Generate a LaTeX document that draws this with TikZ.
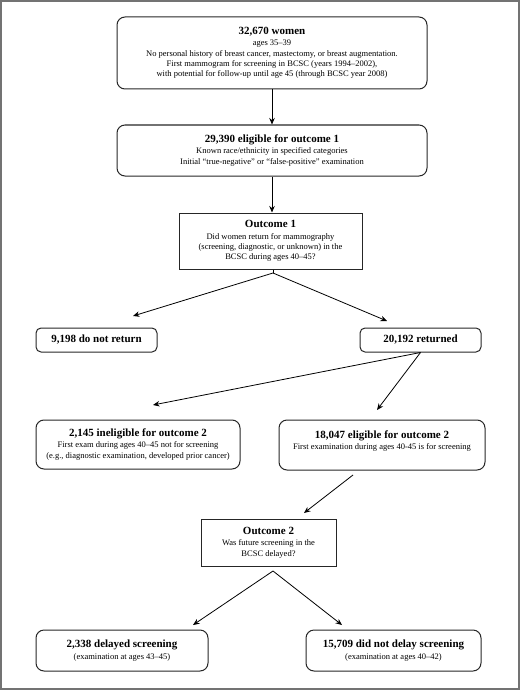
\documentclass[tikz,border=0pt]{standalone}
\usepackage{fontspec}
\setmainfont{Liberation Serif}
\usetikzlibrary{arrows.meta}
\newcommand{\ttl}[1]{{\fontsize{11}{13}\selectfont\bfseries #1}}
\begin{document}
\begin{tikzpicture}[x=1pt,y=-1pt,
  rbox/.style={draw=black!85, line width=1pt, rounded corners=8pt, align=center,
    inner sep=0pt, font=\fontsize{8.5}{10.3}\selectfont},
  sbox/.style={draw=black!85, line width=1pt, align=center, inner sep=0pt,
    font=\fontsize{8.5}{10.3}\selectfont},
  arr/.style={draw=black, line width=0.8pt, -{Stealth[length=6.5pt,width=5.5pt]}},
  ln/.style={draw=black, line width=0.8pt}
]
\useasboundingbox (0,0) rectangle (520,690);
\draw[draw=black!55, line width=2.2pt] (1.1,1.1) rectangle (518.9,688.9);

\node[rbox, minimum width=310pt, minimum height=72pt] (b1) at (272,53)
  {\ttl{32,670 women}\\[1pt] ages 35--39\\ No personal history of breast cancer, mastectomy, or breast augmentation.\\
   First mammogram for screening in BCSC (years 1994--2002),\\ with potential for follow-up until age 45 (through BCSC year 2008)};
\node[rbox, minimum width=310pt, minimum height=51pt] (b2) at (272,150.5)
  {\ttl{29,390 eligible for outcome 1}\\[1pt] Known race/ethnicity in specified categories\\
   Initial “true-negative” or “false-positive” examination};
\node[sbox, minimum width=183pt, minimum height=56pt] (o1) at (270.5,241)
  {\ttl{Outcome 1}\\[1pt] Did women return for mammography\\ (screening, diagnostic, or unknown) in the\\ BCSC during ages 40--45?};
\node[rbox, rounded corners=5pt, minimum width=121pt, minimum height=24pt] (nr) at (96.5,340)
  {\ttl{9,198 do not return}};
\node[rbox, rounded corners=5pt, minimum width=121pt, minimum height=24pt] (rt) at (420.5,340)
  {\ttl{20,192 returned}};
\node[rbox, minimum width=204pt, minimum height=49pt] (in) at (138,444.5)
  {\ttl{2,145 ineligible for outcome 2}\\[1pt] First exam during ages 40--45 not for screening\\
   (e.g., diagnostic examination, developed prior cancer)};
\node[rbox, minimum width=206pt, minimum height=50pt] (el) at (382,445)
  {\ttl{18,047 eligible for outcome 2}\\[1pt] First examination during ages 40-45 is for screening\\ \mbox{}};
\node[sbox, minimum width=135pt, minimum height=47pt] (o2) at (268.5,542.5)
  {\ttl{Outcome 2}\\[1pt] Was future screening in the\\ BCSC delayed?};
\node[rbox, minimum width=172pt, minimum height=41pt] (dl) at (122,650.5)
  {\ttl{2,338 delayed screening}\\[1pt] (examination at ages 43--45)};
\node[rbox, minimum width=175pt, minimum height=41pt] (nd) at (393.5,650.5)
  {\ttl{15,709 did not delay screening}\\[1pt] (examination at ages 40--42)};

\coordinate (a1) at (273,273);
\coordinate (e1) at (133,316);
\coordinate (e2) at (387,321);
\coordinate (e3) at (153,405);
\coordinate (e4) at (377,410);
\coordinate (s5) at (353,475);
\coordinate (e5) at (304,513);
\coordinate (a3) at (273,571);
\coordinate (e6) at (193,625);
\coordinate (e7) at (342,625);

\draw[arr] (b1.south) -- (b2.north);
\draw[arr] (b2.south) -- (b2.south |- o1.north);
\draw[ln] (o1.south -| a1) -- (a1);
\draw[arr] (a1) -- (e1);
\draw[arr] (a1) -- (e2);
\draw[arr] (rt.south) -- (e3);
\draw[arr] (rt.south) -- (e4);
\draw[arr] (s5) -- (e5);
\draw[arr] (a3) -- (e6);
\draw[arr] (a3) -- (e7);
\end{tikzpicture}
\end{document}
